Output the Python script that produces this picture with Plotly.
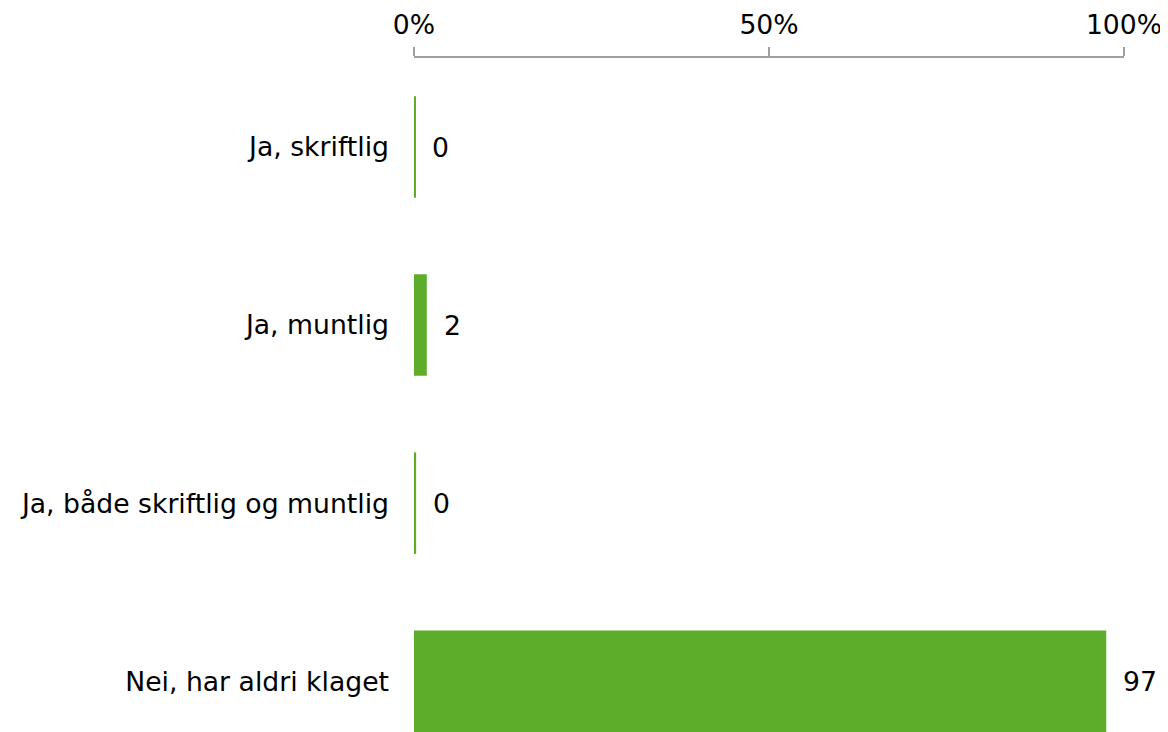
import plotly.graph_objects as go

categories = ["Ja, skriftlig", "Ja, muntlig", "Ja, både skriftlig og muntlig", "Nei, har aldri klaget"]
values = [0.15, 1.8, 0.3, 97.5]
labels = ["0", "2", "0", "97"]
tick_vals = [0, 50, 100]
tick_text = ["0%", "50%", "100%"]

FS = 26.67

fig = go.Figure()
fig.add_trace(go.Bar(
    y=categories, x=values, orientation="h",
    marker=dict(color="#5DAD2A", line=dict(width=0)),
    hoverinfo="skip",
))
for c, v, t in zip(categories, values, labels):
    fig.add_annotation(x=v, y=c, text=t, showarrow=False, xanchor="left", xshift=15,
                       font=dict(family="DejaVu Sans", size=FS, color="#000000"))

fig.update_layout(
    width=1168, height=732,
    margin=dict(l=406, r=52, t=50, b=0),
    paper_bgcolor="white", plot_bgcolor="white",
    showlegend=False, bargap=0.43,
    font=dict(family="DejaVu Sans", size=FS, color="#000000"),
)
fig.update_xaxes(
    side="top", range=[0, 100], tickvals=tick_vals, ticktext=tick_text,
    showgrid=False, zeroline=False, showline=True, linecolor="#A0A0A0", linewidth=2,
    ticks="outside", ticklen=9, tickcolor="#A0A0A0", tickwidth=2,
    ticklabelstandoff=2, automargin=False,
    tickfont=dict(family="DejaVu Sans", size=FS, color="#000000"),
)
fig.update_yaxes(
    categoryorder="array", categoryarray=categories, range=[3.33, -0.5],
    showgrid=False, zeroline=False, showline=False, ticks="",
    ticklabelstandoff=24, automargin=False,
    tickfont=dict(family="DejaVu Sans", size=FS, color="#000000"),
)
fig.write_html("out.html")
